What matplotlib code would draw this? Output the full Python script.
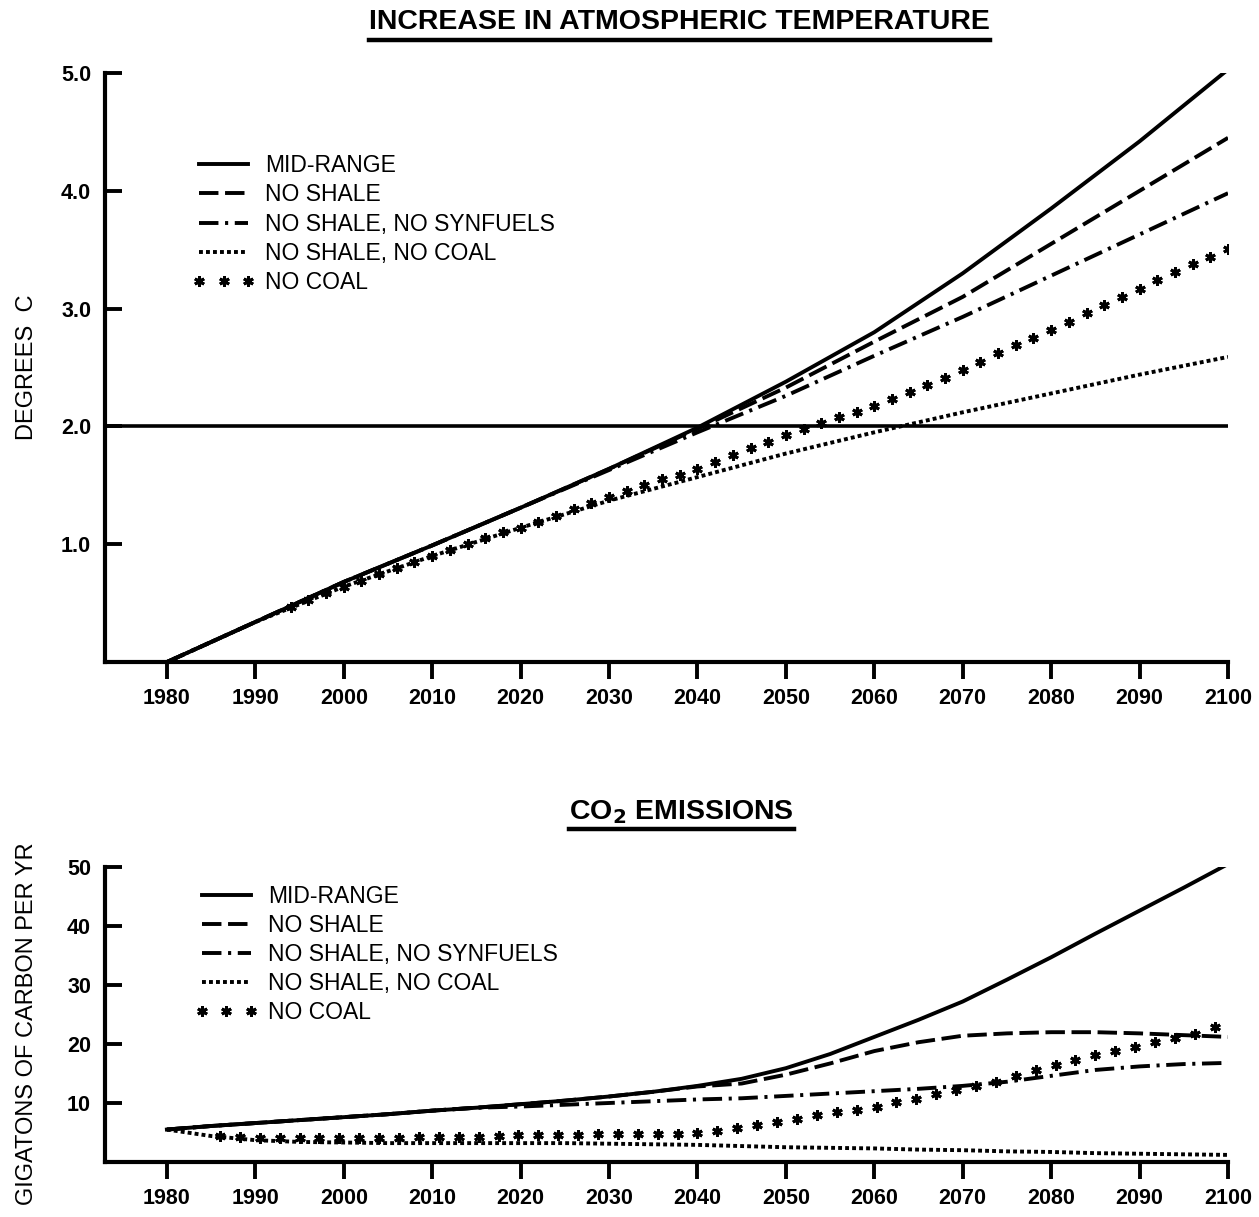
import numpy as np
import matplotlib
matplotlib.use('Agg')
import matplotlib.pyplot as plt
from matplotlib.lines import Line2D

plt.rcParams['font.family'] = ['Liberation Sans', 'DejaVu Sans']

# ---- data ----
labels = ['MID-RANGE', 'NO SHALE', 'NO SHALE, NO SYNFUELS', 'NO SHALE, NO COAL', 'NO COAL']

# temperature increase, degrees C (every 10 yr)
temp_years = [1980, 1990, 2000, 2010, 2020, 2030, 2040, 2050, 2060, 2070, 2080, 2090, 2100]
temp_mid = [0.0, 0.34, 0.68, 0.99, 1.31, 1.64, 1.99, 2.38, 2.80, 3.30, 3.85, 4.42, 5.03]
temp_noshale = [0.0, 0.34, 0.68, 0.99, 1.31, 1.64, 1.98, 2.33, 2.72, 3.10, 3.55, 4.00, 4.45]
temp_nosyn = [0.0, 0.34, 0.68, 0.99, 1.31, 1.63, 1.95, 2.26, 2.60, 2.93, 3.28, 3.63, 3.98]
temp_nocoal_ns = [0.0, 0.34, 0.64, 0.90, 1.14, 1.37, 1.57, 1.77, 1.95, 2.12, 2.28, 2.44, 2.59]
# no coal (asterisks, every 2 yr from 1994)
temp_star_years = list(range(1994, 2101, 2))
temp_nocoal = [0.47, 0.53, 0.59, 0.64, 0.69, 0.75, 0.80, 0.85, 0.90, 0.95,
               1.00, 1.05, 1.10, 1.14, 1.19, 1.24, 1.30, 1.35, 1.40, 1.45,
               1.50, 1.55, 1.59, 1.64, 1.70, 1.76, 1.82, 1.87, 1.93, 1.98,
               2.03, 2.08, 2.12, 2.17, 2.23, 2.29, 2.35, 2.41, 2.48, 2.55,
               2.62, 2.69, 2.75, 2.82, 2.89, 2.96, 3.03, 3.10, 3.17, 3.24,
               3.31, 3.38, 3.44, 3.51]

# CO2 emissions, Gt carbon per yr (every 5 yr)
co2_years = list(range(1980, 2101, 5))
co2_mid = [5.5, 6.1, 6.6, 7.1, 7.6, 8.1, 8.7, 9.2, 9.8, 10.4, 11.1, 11.9, 12.9,
           14.1, 15.9, 18.3, 21.2, 24.1, 27.2, 30.9, 34.7, 38.7, 42.6, 46.5, 50.5]
co2_noshale = [5.5, 6.1, 6.6, 7.1, 7.6, 8.1, 8.7, 9.2, 9.8, 10.4, 11.1, 11.9, 12.8,
               13.3, 14.8, 16.7, 18.8, 20.3, 21.4, 21.8, 22.0, 22.0, 21.8, 21.5, 21.2]
co2_nosyn = [5.5, 6.1, 6.6, 7.1, 7.6, 8.1, 8.7, 9.2, 9.4, 9.7, 10.0, 10.3, 10.6,
             10.8, 11.2, 11.6, 12.0, 12.4, 12.9, 13.6, 14.6, 15.6, 16.2, 16.6, 16.8]
co2_nocoal_ns = [5.5, 4.4, 3.7, 3.4, 3.3, 3.2, 3.2, 3.2, 3.2, 3.2, 3.1, 3.0, 2.9,
                 2.7, 2.5, 2.4, 2.3, 2.1, 2.0, 1.8, 1.7, 1.5, 1.4, 1.3, 1.2]
# no coal (asterisks, every 2.25 yr from 1986)
co2_nocoal = [4.4, 4.2, 4.1, 4.0, 4.0, 4.0, 4.0, 4.0, 4.1, 4.1, 4.2, 4.2, 4.3, 4.3,
              4.4, 4.5, 4.5, 4.6, 4.6, 4.7, 4.7, 4.7, 4.7, 4.8, 4.9, 5.3, 5.8, 6.3,
              6.8, 7.3, 7.9, 8.4, 8.8, 9.4, 10.1, 10.7, 11.5, 12.2, 12.8, 13.5, 14.6,
              15.6, 16.5, 17.3, 18.2, 18.8, 19.5, 20.3, 21.0, 21.7, 22.9]
co2_star_years = 1986 + 2.25 * np.arange(len(co2_nocoal))

temp_ticks = [1.0, 2.0, 3.0, 4.0, 5.0]
co2_ticks = [10, 20, 30, 40, 50]
year_ticks = list(range(1980, 2101, 10))

# ---- styles ----
LW = 2.8
dash = (0, (5.0, 1.7))
dashdot = (0, (5.0, 1.7, 0.8, 1.7))
dotted = (0, (1.0, 0.8))
star = dict(linestyle='none', marker=(6, 2, 0), markersize=7.5, markeredgewidth=2.1, color='black')

fig = plt.figure(figsize=(12.59, 12.17), dpi=100)
ax1 = fig.add_axes([0.0834, 0.4560, 0.892, 0.4840])
ax2 = fig.add_axes([0.0834, 0.0452, 0.892, 0.2424])


def style_axis(ax, yticks, ylabels, ylim):
    for s in ['top', 'right']:
        ax.spines[s].set_visible(False)
    for s in ['left', 'bottom']:
        ax.spines[s].set_linewidth(3.0)
    ax.set_xlim(1973, 2100)
    ax.set_ylim(*ylim)
    ax.set_xticks(year_ticks)
    ax.set_yticks(yticks)
    ax.set_yticklabels(ylabels)
    ax.tick_params(axis='y', direction='in', length=12, width=2.8, pad=10, labelsize=15.5)
    ax.tick_params(axis='x', direction='out', length=12, width=2.8, pad=7, labelsize=15.5)
    for lbl in ax.get_xticklabels() + ax.get_yticklabels():
        lbl.set_fontweight('bold')


leg_kw = dict(loc='upper left', frameon=False, fontsize=16.5, handlelength=2.75,
              handletextpad=0.45, labelspacing=0.27, borderpad=0, borderaxespad=0,
              numpoints=3)

# top panel
ax1.axhline(2.0, color='black', lw=2.6)
ax1.plot(temp_years, temp_mid, color='black', lw=LW, label=labels[0])
ax1.plot(temp_years, temp_noshale, color='black', lw=LW, linestyle=dash, label=labels[1])
ax1.plot(temp_years, temp_nosyn, color='black', lw=LW, linestyle=dashdot, label=labels[2])
ax1.plot(temp_years, temp_nocoal_ns, color='black', lw=LW, linestyle=dotted, label=labels[3])
ax1.plot(temp_star_years, temp_nocoal, label=labels[4], **star)
style_axis(ax1, temp_ticks, ['1.0', '2.0', '3.0', '4.0', '5.0'], (0, 5.0))
ax1.set_ylabel('DEGREES  C', fontsize=17)
ax1.yaxis.set_label_coords(-0.060, 0.5)
ax1.legend(bbox_to_anchor=(0.0775, 0.862), **leg_kw)

# bottom panel
ax2.plot(co2_years, co2_mid, color='black', lw=LW, label=labels[0])
ax2.plot(co2_years, co2_noshale, color='black', lw=LW, linestyle=dash, label=labels[1])
ax2.plot(co2_years, co2_nosyn, color='black', lw=LW, linestyle=dashdot, label=labels[2])
ax2.plot(co2_years, co2_nocoal_ns, color='black', lw=LW, linestyle=dotted, label=labels[3])
ax2.plot(co2_star_years, co2_nocoal, label=labels[4], **star)
style_axis(ax2, co2_ticks, [str(v) for v in co2_ticks], (0, 50))
ax2.set_ylabel('GIGATONS OF CARBON PER YR', fontsize=17)
ax2.yaxis.set_label_coords(-0.060, 0.47)
ax2.legend(bbox_to_anchor=(0.08, 0.94), **leg_kw)

# titles with underline
t1 = fig.text(0.540, 0.982, 'INCREASE IN ATMOSPHERIC TEMPERATURE', ha='center', va='center',
              fontsize=20.5, fontweight='bold')
t2 = fig.text(0.541, 0.333, r'CO$_{\mathbf{2}}$ EMISSIONS', ha='center', va='center',
              fontsize=20.5, fontweight='bold')
fig.canvas.draw()
inv = fig.transFigure.inverted()
for t, yline in [(t1, 0.967), (t2, 0.319)]:
    bb = t.get_window_extent().transformed(inv)
    fig.add_artist(Line2D([bb.x0, bb.x1], [yline, yline], color='black', lw=3.2,
                          transform=fig.transFigure))

fig.savefig('out.png', dpi=100)
